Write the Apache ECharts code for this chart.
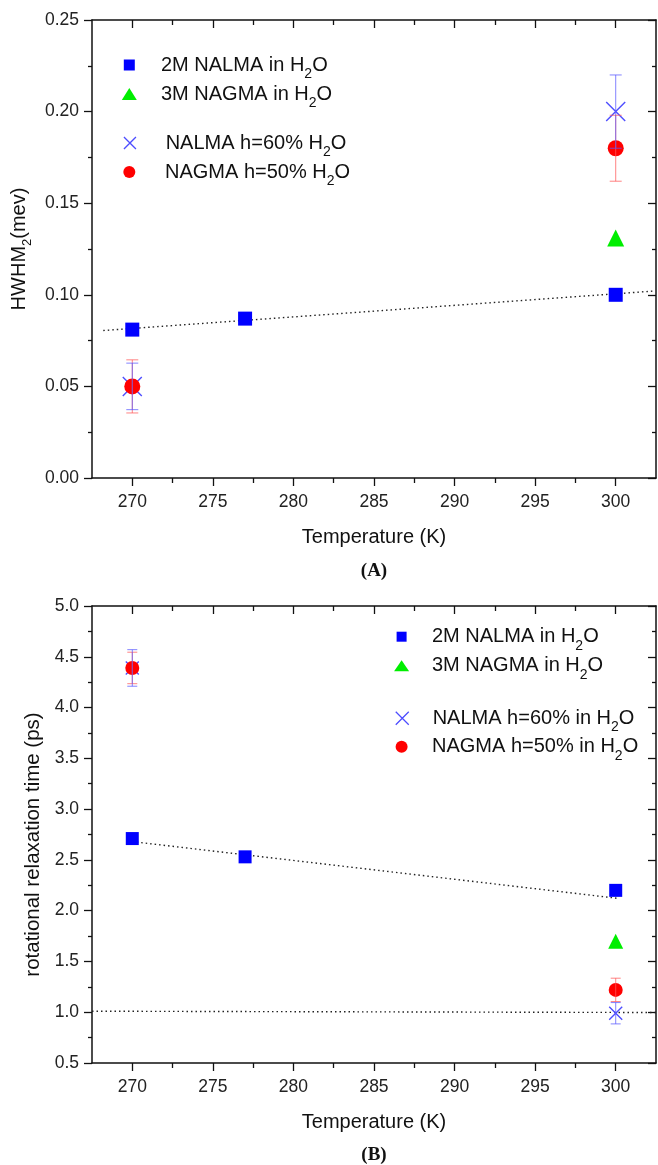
<!DOCTYPE html>
<html>
<head>
<meta charset="utf-8">
<script src="https://cdn.jsdelivr.net/npm/echarts@6/dist/echarts.min.js"></script>
<style>
html, body { margin: 0; padding: 0; background: #fff; }
#chart { width: 658px; height: 1165px; }
</style>
</head>
<body>
<div id="chart"></div>
<script>
// temperature axis (K)
var xMajorTicks = [270, 275, 280, 285, 290, 295, 300];
var xMinorTicks = [272.5, 277.5, 282.5, 287.5, 292.5, 297.5];

// panel A : HWHM2 (meV)
var nalma2mA = [[270, 0.081], [277, 0.087], [300, 0.100]];
var nagma3mA = [[300, 0.131]];
var nalma60A = [[270, 0.050], [300, 0.200]];
var nalma60ErrA = [0.0127, 0.020];
var nagma50A = [[270, 0.050], [300, 0.180]];
var nagma50ErrA = [0.0145, 0.018];
var fitA = [[268.2, 0.0805], [302.3, 0.102]];

// panel B : rotational relaxation time (ps)
var nalma2mB = [[270, 2.71], [277, 2.53], [300, 2.20]];
var nagma3mB = [[300, 1.70]];
var nalma60B = [[270, 4.39], [300, 0.99]];
var nalma60ErrB = [0.18, 0.105];
var nagma50B = [[270, 4.39], [300, 1.22]];
var nagma50ErrB = [0.155, 0.115];
var fitB = [[270, 2.68], [300.2, 2.12]];
var refB = [[267.5, 1.01], [302.5, 0.997]];

var AXIS = '#111';
var FONT = 'Liberation Sans';
var BLUE = '#0000ff', GREEN = '#00ee00', XBLUE = '#4d4dff', RED = '#ff0000';
var X_PATH = 'path://M0,0L10,10M10,0L0,10';

var subRich = {
    s: { fontFamily: FONT, fontSize: 14, lineHeight: 14, verticalAlign: 'bottom', color: '#111' }
};

var N1 = '2M NALMA in H{s|2}O';
var N2 = '3M NAGMA in H{s|2}O';
var N3a = 'NALMA h=60% H{s|2}O';
var N4a = 'NAGMA h=50% H{s|2}O';
var N3b = 'NALMA h=60% in H{s|2}O';
var N4b = 'NAGMA h=50% in H{s|2}O';

function lineStyle(w) { return { color: AXIS, width: w }; }

function xAxesFor(g) {
    function ax(extra) {
        return Object.assign({
            gridIndex: g, type: 'value', min: 267.5, max: 302.5, silent: true,
            splitLine: { show: false }, axisLabel: { show: false },
            axisLine: { show: false, onZero: false }
        }, extra);
    }
    function tick(vals, len, inside) {
        return { show: true, customValues: vals, length: len, inside: inside, lineStyle: lineStyle(1.3) };
    }
    return [
        ax({
            position: 'bottom',
            axisLine: { show: true, onZero: false, lineStyle: lineStyle(1.5) },
            axisTick: tick(xMajorTicks, 8, false),
            axisLabel: { show: true, customValues: xMajorTicks, margin: 15, fontFamily: FONT, fontSize: 17.5, color: '#222' },
            name: 'Temperature (K)', nameLocation: 'middle', nameGap: 49,
            nameTextStyle: { fontFamily: FONT, fontSize: 20, color: '#111' }
        }),
        ax({ position: 'bottom', axisTick: tick(xMinorTicks, 5, false) }),
        ax({ position: 'top', axisLine: { show: true, onZero: false, lineStyle: lineStyle(1.5) }, axisTick: tick(xMajorTicks, 8, true) }),
        ax({ position: 'top', axisTick: tick(xMinorTicks, 5, true) })
    ];
}

function yAxesFor(g, min, max, step, digits, name, nameGap, nameStyle) {
    function ax(extra) {
        return Object.assign({
            gridIndex: g, type: 'value', min: min, max: max, interval: step, silent: true,
            splitLine: { show: false },
            axisLine: { show: true, onZero: false, lineStyle: lineStyle(1.5) }
        }, extra);
    }
    return [
        ax({
            position: 'left',
            axisTick: { show: true, length: 8, inside: false, lineStyle: lineStyle(1.3) },
            minorTick: { show: true, splitNumber: 2, length: 4, lineStyle: lineStyle(1.3) },
            axisLabel: {
                margin: 13, fontFamily: FONT, fontSize: 17.5, color: '#222',
                formatter: function (v) { return v.toFixed(digits); }
            },
            name: name, nameLocation: 'middle', nameGap: nameGap, nameRotate: 90,
            nameTextStyle: nameStyle
        }),
        ax({
            position: 'right',
            axisTick: { show: true, length: 8, inside: true, lineStyle: lineStyle(1.3) },
            minorTick: { show: true, splitNumber: 2, length: 4, lineStyle: lineStyle(1.3) },
            axisLabel: { show: false }
        })
    ];
}

function scatter(name, data, symbol, size, color, xi, yi) {
    var s = {
        name: name, type: 'scatter', xAxisIndex: xi, yAxisIndex: yi, data: data,
        symbol: symbol, symbolSize: size, z: 3, itemStyle: { color: color, opacity: 1 }
    };
    if (symbol === X_PATH) {
        s.itemStyle = { color: color, borderColor: color, borderWidth: 1.4, opacity: 1 };
        s.z = 2;
    }
    return s;
}

function dotted(data, xi, yi) {
    return {
        type: 'line', xAxisIndex: xi, yAxisIndex: yi, data: data, symbol: 'none', silent: true, z: 1,
        lineStyle: { color: '#222', width: 1.4, type: [1.5, 3] }
    };
}

function errorBars(points, errs, color, cap, xi, yi) {
    var data = points.map(function (p, i) { return [p[0], p[1] - errs[i], p[1] + errs[i]]; });
    return {
        type: 'custom', xAxisIndex: xi, yAxisIndex: yi, data: data, silent: true, z: 4,
        renderItem: function (params, api) {
            var lo = api.coord([api.value(0), api.value(1)]);
            var hi = api.coord([api.value(0), api.value(2)]);
            var st = { stroke: color, lineWidth: 1 };
            return {
                type: 'group', children: [
                    { type: 'line', shape: { x1: lo[0], y1: lo[1], x2: hi[0], y2: hi[1] }, style: st },
                    { type: 'line', shape: { x1: lo[0] - cap, y1: lo[1], x2: lo[0] + cap, y2: lo[1] }, style: st },
                    { type: 'line', shape: { x1: hi[0] - cap, y1: hi[1], x2: hi[0] + cap, y2: hi[1] }, style: st }
                ]
            };
        }
    };
}

function legendRow(name, icon, cx, cy, w, h, textX, itemStyle) {
    var d = { name: name, icon: icon };
    if (itemStyle) d.itemStyle = itemStyle;
    return {
        data: [d], left: cx - w / 2, top: cy - 16, itemWidth: w, itemHeight: h,
        padding: 0, selectedMode: false,
        textStyle: {
            fontFamily: FONT, fontSize: 20, lineHeight: 32, color: '#111',
            padding: [0, 0, 0, textX - (cx + w / 2) - 5], rich: subRich
        }
    };
}

var xStyle = { color: XBLUE, borderColor: XBLUE, borderWidth: 1.3 };

var option = {
    animation: false,
    backgroundColor: '#fff',
    grid: [
        { left: 92, top: 20, width: 564, height: 458, outerBoundsMode: 'none' },
        { left: 92, top: 606, width: 564, height: 457, outerBoundsMode: 'none' }
    ],
    xAxis: xAxesFor(0).concat(xAxesFor(1)),
    yAxis: yAxesFor(0, 0, 0.25, 0.05, 2, 'HWHM{s|2}(mev)', 47,
        { fontFamily: FONT, fontSize: 20, lineHeight: 30, color: '#111',
          rich: { s: { fontFamily: FONT, fontSize: 13, lineHeight: 13, verticalAlign: 'bottom', color: '#111' } } })
        .concat(yAxesFor(1, 0.5, 5.0, 0.5, 1, 'rotational relaxation time (ps)', 45,
        { fontFamily: FONT, fontSize: 20.5, color: '#111', padding: [0, 20, 0, 0] })),
    legend: [
        legendRow(N1, 'rect', 129.3, 65, 11, 11, 161),
        legendRow(N2, 'triangle', 129.3, 94, 15, 12, 161),
        legendRow(N3a, X_PATH, 129.3, 143, 12, 12, 165, xStyle),
        legendRow(N4a, 'circle', 129.3, 172, 12, 12, 165),
        legendRow(N1, 'rect', 401.6, 636.7, 10, 10, 432),
        legendRow(N2, 'triangle', 401.6, 665.7, 15, 11, 432),
        legendRow(N3b, X_PATH, 401.6, 718.3, 13, 13, 432, xStyle),
        legendRow(N4b, 'circle', 401.6, 746.7, 12, 12, 432)
    ],
    graphic: [
        { type: 'text', x: 374, y: 571, style: { text: '(A)', align: 'center', verticalAlign: 'middle', font: 'bold 19px "Liberation Serif"', fill: '#111' } },
        { type: 'text', x: 374, y: 1155, style: { text: '(B)', align: 'center', verticalAlign: 'middle', font: 'bold 19px "Liberation Serif"', fill: '#111' } }
    ],
    series: [
        // panel A
        dotted(fitA, 0, 0),
        scatter(N1, nalma2mA, 'rect', 14, BLUE, 0, 0),
        scatter(N2, nagma3mA, 'triangle', 17, GREEN, 0, 0),
        scatter(N3a, nalma60A, X_PATH, 19, XBLUE, 0, 0),
        scatter(N4a, nagma50A, 'circle', 16, RED, 0, 0),
        errorBars(nagma50A, nagma50ErrA, 'rgba(255,90,90,0.75)', 6, 0, 0),
        errorBars(nalma60A, nalma60ErrA, 'rgba(90,90,255,0.75)', 6, 0, 0),
        // panel B
        dotted(fitB, 4, 2),
        dotted(refB, 4, 2),
        scatter(N1, nalma2mB, 'rect', 13, BLUE, 4, 2),
        scatter(N2, nagma3mB, 'triangle', 15, GREEN, 4, 2),
        scatter(N3b, nalma60B, X_PATH, 13, XBLUE, 4, 2),
        scatter(N4b, nagma50B, 'circle', 14, RED, 4, 2),
        errorBars(nagma50B, nagma50ErrB, 'rgba(255,90,90,0.75)', 5, 4, 2),
        errorBars(nalma60B, nalma60ErrB, 'rgba(90,90,255,0.75)', 5, 4, 2)
    ]
};

var chart = echarts.init(document.getElementById('chart'), null, { renderer: 'canvas' });
chart.setOption(option);
</script>
</body>
</html>
